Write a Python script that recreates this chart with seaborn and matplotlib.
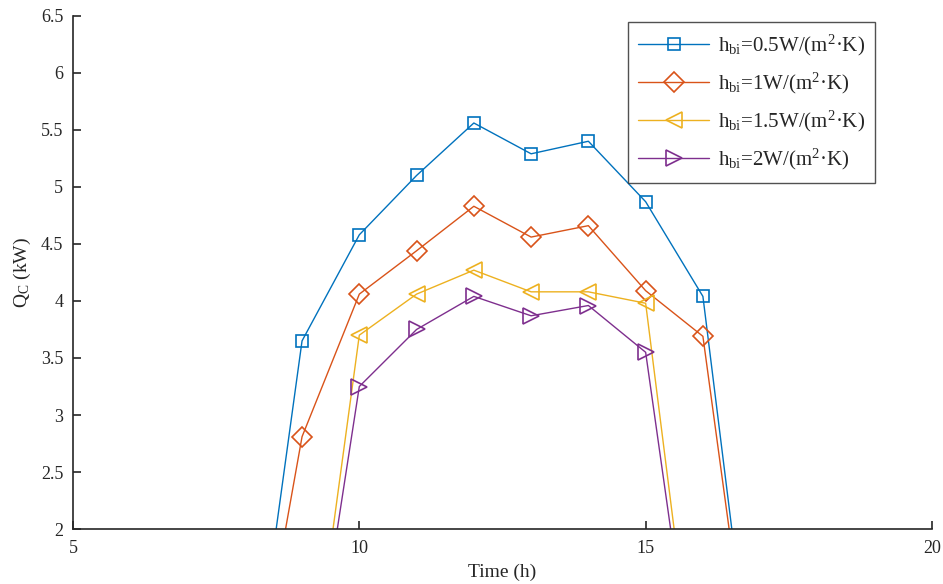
import matplotlib
matplotlib.use("Agg")
import matplotlib.pyplot as plt
import seaborn as sns
import pandas as pd

# hours of the day, values outside the working period are zero (clipped by y-limit)
hours = list(range(5, 21))
q_h05 = [0, 0, 0, 0, 3.65, 4.58, 5.10, 5.56, 5.29, 5.40, 4.87, 4.04, 0, 0, 0, 0]
q_h1 = [0, 0, 0, 0, 2.81, 4.06, 4.44, 4.83, 4.56, 4.66, 4.09, 3.69, 0, 0, 0, 0]
q_h15 = [0, 0, 0, 0, 0, 3.70, 4.06, 4.27, 4.08, 4.08, 3.98, 0, 0, 0, 0, 0]
q_h2 = [0, 0, 0, 0, 0, 3.25, 3.75, 4.04, 3.87, 3.96, 3.55, 0, 0, 0, 0, 0]

labels = [
    r"h$_{\mathrm{bi}}$=0.5W/(m$^{2}$·K)",
    r"h$_{\mathrm{bi}}$=1W/(m$^{2}$·K)",
    r"h$_{\mathrm{bi}}$=1.5W/(m$^{2}$·K)",
    r"h$_{\mathrm{bi}}$=2W/(m$^{2}$·K)",
]
series = [q_h05, q_h1, q_h15, q_h2]
colors = ["#0072BD", "#D95319", "#EDB120", "#7E2F8E"]
markers = ["s", "D", "<", ">"]
msizes = [9, 10, 11, 11]

df = pd.concat(
    [pd.DataFrame({"hour": hours, "Q": vals, "case": lab}) for lab, vals in zip(labels, series)],
    ignore_index=True,
)

sns.set_style("white")
plt.rcParams["font.family"] = ["Liberation Serif", "DejaVu Serif"]
plt.rcParams["mathtext.fontset"] = "custom"
plt.rcParams["mathtext.rm"] = "Liberation Serif"
plt.rcParams["mathtext.it"] = "Liberation Serif:italic"

fig = plt.figure(figsize=(9.43, 5.84), dpi=100)
ax = fig.add_axes([0.0774, 0.094, 0.9109, 0.879])

for lab, col, mk, ms in zip(labels, colors, markers, msizes):
    sns.lineplot(
        data=df[df["case"] == lab], x="hour", y="Q", ax=ax, color=col,
        marker=mk, markersize=ms, markerfacecolor="none", markeredgecolor=col,
        markeredgewidth=1.2, linewidth=1.0, label=lab,
    )

ax.set_xlim(5, 20)
ax.set_ylim(2, 6.5)
ax.set_xticks([5, 10, 15, 20])
ax.set_xticklabels(["5", "10", "15", "20"])
ax.set_yticks([2, 2.5, 3, 3.5, 4, 4.5, 5, 5.5, 6, 6.5])
ax.set_yticklabels(["2", "2.5", "3", "3.5", "4", "4.5", "5", "5.5", "6", "6.5"])
ax.tick_params(bottom=True, left=True, direction="in", length=6, width=1.2,
               labelsize=13, colors="#262626")
ax.tick_params(axis="x", pad=8)
ax.tick_params(axis="y", pad=7)
ax.set_xlabel("Time (h)", fontsize=14, labelpad=5)
ax.set_ylabel(r"Q$_{\mathrm{C}}$ (kW)", fontsize=14, labelpad=6)
sns.despine(ax=ax)
for s in ["left", "bottom"]:
    ax.spines[s].set_color("#262626")
    ax.spines[s].set_linewidth(1.2)

leg = ax.legend(
    loc="upper right", bbox_to_anchor=(0.928, 0.962), bbox_transform=fig.transFigure,
    borderaxespad=0, fontsize=15, frameon=True, fancybox=False, handlelength=3.4,
    labelspacing=0.62, borderpad=0.5, handletextpad=0.4,
)
leg.get_frame().set_edgecolor("#262626")
leg.get_frame().set_linewidth(1.0)

fig.savefig("out.png", dpi=100)
